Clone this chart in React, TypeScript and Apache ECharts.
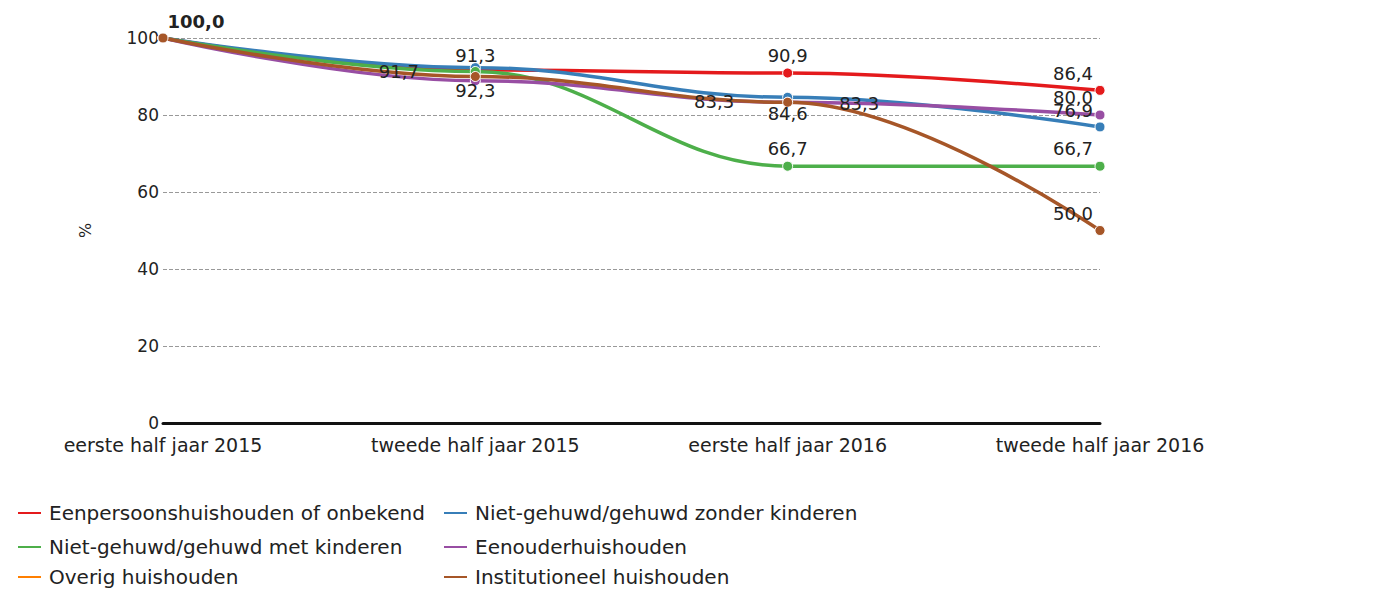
import React, { useEffect, useRef } from "react";
import * as echarts from "echarts";

const categories = ["eerste half jaar 2015", "tweede half jaar 2015", "eerste half jaar 2016", "tweede half jaar 2016"];
const seriesNames = [
  "Eenpersoonshuishouden of onbekend",
  "Niet-gehuwd/gehuwd zonder kinderen",
  "Niet-gehuwd/gehuwd met kinderen",
  "Eenouderhuishouden",
  "Overig huishouden",
  "Institutioneel huishouden",
];
const eenpersoons = [100, 91.7, 90.9, 86.4];
const zonderKinderen = [100, 92.3, 84.6, 76.9];
const metKinderen = [100, 91.3, 66.7, 66.7];
const eenouder = [100, 88.9, 83.3, 80.0];
const overig: number[] = [];
const institutioneel = [100, 90.0, 83.3, 50.0];
const colors = ["#e41a1c", "#377eb8", "#4daf4a", "#984ea3", "#ff7f00", "#a65628"];
const yTicks = { min: 0, max: 100, interval: 20 };

// label placement per series / point: [position, offsetX, offsetY] or null = hidden
type LP = [string, number, number] | null;
const labelPlan: LP[][] = [
  [null, ["left", -47, 2], ["top", 0, 1], ["top", -27, 2]],
  [null, ["bottom", 0, 4], ["bottom", 0, -2], ["top", -27, 2]],
  [null, ["top", 0, 3], ["top", 0, 1], ["top", -27, 1]],
  [null, null, ["left", -44, -1], ["top", -27, 1]],
  [],
  [["right", -5, -17], null, ["right", 42, 1], ["top", -27, 1]],
];

const legendPos = [
  { left: 16, top: 503 },
  { left: 442, top: 503 },
  { left: 16, top: 537 },
  { left: 442, top: 537 },
  { left: 16, top: 567 },
  { left: 442, top: 567 },
];

const fmt = (v: number) => v.toFixed(1).replace(".", ",");
const FONT = "DejaVu Sans, Verdana, sans-serif";

export default function App() {
  const ref = useRef<HTMLDivElement>(null);
  useEffect(() => {
    if (!ref.current) return;
    const chart = echarts.init(ref.current, undefined, { renderer: "svg" });
    const dataSets = [eenpersoons, zonderKinderen, metKinderen, eenouder, overig, institutioneel];
    const lineSeries = dataSets.map((d, si) => ({
      name: seriesNames[si],
      type: "line",
      smooth: 0.4,
      smoothMonotone: "x",
      symbol: "circle",
      symbolSize: 10,
      z: si === 5 ? 7 : si === 3 ? 6 : 2 + si,
      lineStyle: { width: 3.5, color: colors[si] },
      itemStyle: { color: colors[si], borderColor: "#fff", borderWidth: 1 },
      data: d,
    }));
    const labelSeries = dataSets.map((d, si) => ({
      name: seriesNames[si] + " (labels)",
      type: "line",
      silent: true,
      symbol: "circle",
      symbolSize: 1,
      z: 20,
      lineStyle: { width: 0, color: "rgba(0,0,0,0)" },
      itemStyle: { color: "rgba(0,0,0,0)", borderWidth: 0 },
      data: d.map((v, i) => {
        const lp = labelPlan[si][i];
        const bold = si === 5 && i === 0;
        return {
          value: v,
          label: lp
            ? {
                show: true,
                position: lp[0],
                distance: 9,
                offset: [lp[1], lp[2]],
                formatter: () => fmt(v),
                fontFamily: FONT,
                fontSize: 18,
                fontWeight: bold ? "bold" : "normal",
                color: "#222",
                opacity: 1,
              }
            : { show: false },
        };
      }),
    }));
    chart.setOption({
      animation: false,
      color: colors,
      grid: { left: 163, right: 290, top: 38, bottom: 166, containLabel: false },
      legend: seriesNames.map((n, i) => ({
        left: legendPos[i].left,
        top: legendPos[i].top,
        orient: "horizontal",
        padding: 0,
        itemWidth: 25,
        itemHeight: 4,
        itemGap: 0,
        icon: "rect",
        data: [n],
        textStyle: { fontSize: 20, color: "#222", fontFamily: FONT, padding: [0, 0, 0, 2] },
      })),
      xAxis: {
        type: "category",
        data: categories,
        boundaryGap: false,
        axisLine: { lineStyle: { color: "#111", width: 3 } },
        axisTick: { show: false },
        axisLabel: { fontSize: 19, color: "#222", margin: 12, fontFamily: FONT },
      },
      yAxis: {
        type: "value",
        min: yTicks.min,
        max: yTicks.max,
        interval: yTicks.interval,
        name: "%",
        nameLocation: "middle",
        nameGap: 70,
        nameRotate: 90,
        nameTextStyle: { fontSize: 16, color: "#222", fontFamily: FONT },
        axisLine: { show: false },
        axisTick: { show: false },
        axisLabel: { fontSize: 17, color: "#222", margin: 4, fontFamily: FONT },
        splitLine: { lineStyle: { color: "#999", type: [4, 2], width: 1 } },
      },
      series: [...lineSeries, ...labelSeries],
    });
    return () => chart.dispose();
  }, []);
  return (
    <div
      ref={ref}
      style={{ position: "absolute", left: 0, top: 0, width: 1390, height: 589 }}
    />
  );
}
